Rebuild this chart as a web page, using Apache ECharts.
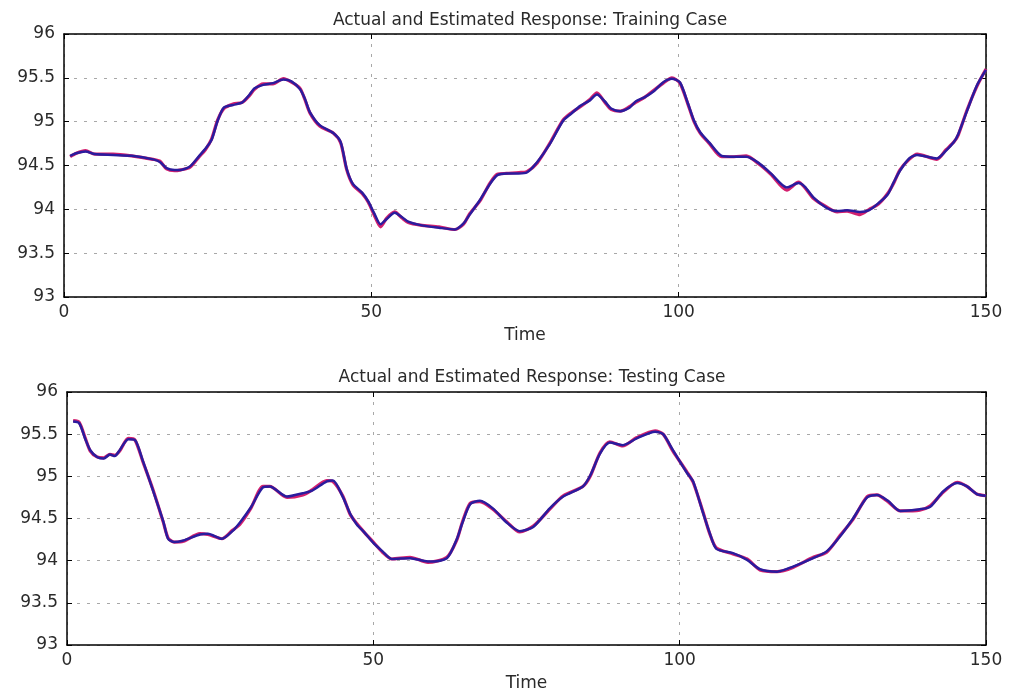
<!DOCTYPE html>
<html>
<head>
<meta charset="utf-8">
<script src="https://cdn.jsdelivr.net/npm/echarts@6/dist/echarts.min.js"></script>
<style>
  html, body { margin: 0; padding: 0; background: #fff; }
  #chart { width: 1010px; height: 693px; }
</style>
</head>
<body>
<div id="chart"></div>
<script>
// training case
const trainTime = [1, 2, 3.5, 5, 8, 11, 14.5, 15.6, 16.7, 18, 19, 20.5, 22, 23, 24, 25, 26, 27.5, 29, 30.2,
  31, 32.4, 34, 35.7, 37, 38.4, 39.2, 40, 41.6, 43.8, 45, 46, 47, 48.5, 49.5, 50.5, 51.5, 52.5, 53.8, 55,
  56, 58, 61, 63.6, 65, 66, 67.7, 69.3, 70.5, 72, 74, 75.3, 77, 79, 81.2, 82.5, 84, 85.5, 86.7, 88,
  89, 90.5, 92, 93, 94.5, 96, 97.5, 98.9, 100.2, 101.5, 102.5, 103.5, 105, 107, 109, 111, 113, 115, 117.6, 119.5,
  120.5, 122, 124, 125.8, 127.4, 129.5, 131, 132.5, 134, 135, 136, 137.5, 138.8, 142, 143.5, 144.8, 145.5, 146.9, 148.5, 150];
const trainActual = [94.60, 94.64, 94.67, 94.63, 94.63, 94.61, 94.57, 94.55, 94.46, 94.44, 94.45, 94.48, 94.60, 94.68, 94.80, 95.02, 95.15, 95.20, 95.22, 95.30,
  95.37, 95.43, 95.43, 95.49, 95.45, 95.38, 95.25, 95.10, 94.95, 94.87, 94.76, 94.45, 94.28, 94.18, 94.08, 93.93, 93.80, 93.90, 93.97, 93.90,
  93.85, 93.82, 93.80, 93.77, 93.83, 93.95, 94.10, 94.30, 94.40, 94.41, 94.42, 94.43, 94.53, 94.75, 95.02, 95.10, 95.17, 95.25, 95.33, 95.22,
  95.14, 95.12, 95.17, 95.22, 95.28, 95.36, 95.44, 95.50, 95.44, 95.20, 95.00, 94.87, 94.75, 94.60, 94.60, 94.61, 94.52, 94.40, 94.22, 94.31,
  94.25, 94.12, 94.03, 93.97, 93.98, 93.94, 94.00, 94.06, 94.18, 94.30, 94.45, 94.57, 94.63, 94.57, 94.68, 94.77, 94.85, 95.13, 95.40, 95.60];
const trainEstimated = [94.61, 94.64, 94.66, 94.63, 94.62, 94.61, 94.57, 94.54, 94.47, 94.45, 94.45, 94.49, 94.61, 94.69, 94.79, 95.01, 95.16, 95.19, 95.22, 95.31,
  95.38, 95.42, 95.44, 95.48, 95.46, 95.37, 95.26, 95.11, 94.96, 94.87, 94.77, 94.46, 94.29, 94.19, 94.09, 93.95, 93.83, 93.89, 93.96, 93.91,
  93.86, 93.82, 93.79, 93.77, 93.84, 93.94, 94.11, 94.29, 94.39, 94.41, 94.41, 94.42, 94.54, 94.74, 95.01, 95.09, 95.18, 95.24, 95.31, 95.23,
  95.15, 95.12, 95.16, 95.23, 95.28, 95.35, 95.45, 95.49, 95.45, 95.21, 95.01, 94.88, 94.76, 94.61, 94.60, 94.60, 94.53, 94.41, 94.25, 94.30,
  94.26, 94.13, 94.02, 93.98, 93.99, 93.97, 93.99, 94.07, 94.17, 94.31, 94.44, 94.58, 94.62, 94.58, 94.67, 94.77, 94.86, 95.12, 95.41, 95.59];

// testing case
const testTime = [1, 2, 3, 3.8, 4.9, 6, 7, 7.8, 8.6, 10, 11.1, 12.4, 14, 15.7, 16.5, 17.5, 19, 21.7, 23, 25.3,
  27, 28.2, 30, 32, 33.1, 35.9, 38.5, 40, 42.4, 43.4, 45, 46.2, 47.3, 48.6, 50, 51.5, 53, 56, 58.9, 62,
  63.6, 64.5, 65.8, 67.4, 69.5, 71.8, 73.9, 76.1, 78.8, 81, 84.2, 85.4, 87, 88.6, 90.7, 93, 96, 97.3, 98.9, 101.2,
  102.2, 103.8, 104.9, 106, 108.7, 111, 113.1, 115.9, 118.5, 121.8, 124, 126.2, 128.3, 130.6, 132.2, 134, 136, 139.2, 140.9, 143,
  145.3, 146.9, 148.5, 150];
const testActual = [95.66, 95.64, 95.45, 95.30, 95.23, 95.22, 95.26, 95.25, 95.30, 95.45, 95.43, 95.17, 94.85, 94.46, 94.27, 94.22, 94.23, 94.32, 94.31, 94.26,
  94.36, 94.43, 94.62, 94.88, 94.88, 94.75, 94.78, 94.84, 94.95, 94.94, 94.77, 94.55, 94.44, 94.33, 94.22, 94.10, 94.02, 94.04, 93.98, 94.04,
  94.24, 94.45, 94.68, 94.70, 94.61, 94.46, 94.34, 94.41, 94.61, 94.77, 94.88, 95.00, 95.28, 95.41, 95.36, 95.46, 95.54, 95.50, 95.30, 95.05,
  94.93, 94.58, 94.32, 94.15, 94.08, 94.02, 93.89, 93.87, 93.92, 94.04, 94.10, 94.30, 94.49, 94.76, 94.78, 94.70, 94.59, 94.60, 94.65, 94.81,
  94.93, 94.88, 94.79, 94.77];
const testEstimated = [95.65, 95.63, 95.44, 95.31, 95.23, 95.21, 95.26, 95.24, 95.31, 95.44, 95.43, 95.18, 94.84, 94.47, 94.26, 94.22, 94.24, 94.31, 94.32, 94.26,
  94.35, 94.45, 94.63, 94.87, 94.88, 94.76, 94.80, 94.83, 94.94, 94.95, 94.76, 94.56, 94.43, 94.33, 94.21, 94.11, 94.02, 94.03, 93.99, 94.03,
  94.25, 94.44, 94.67, 94.71, 94.62, 94.45, 94.35, 94.40, 94.62, 94.76, 94.88, 95.01, 95.27, 95.40, 95.37, 95.45, 95.53, 95.50, 95.31, 95.04,
  94.94, 94.57, 94.33, 94.14, 94.09, 94.01, 93.90, 93.87, 93.93, 94.03, 94.11, 94.29, 94.50, 94.75, 94.78, 94.71, 94.59, 94.61, 94.64, 94.82,
  94.92, 94.88, 94.79, 94.77];

const titles = ['Actual and Estimated Response: Training Case', 'Actual and Estimated Response: Testing Case'];

const pairs = (xs, ys) => xs.map((x, i) => [x, ys[i]]);

const textColor = '#2a2a2a';
const fontFamily = '"DejaVu Sans", "Liberation Sans", sans-serif';

const grids = [
  { left: 64, right: 24, top: 34, height: 263 },
  { left: 67, right: 24, top: 392, height: 255 }
];

const xAxes = [];
const yAxes = [];
grids.forEach((g, gi) => {
  xAxes.push({
    type: 'value', gridIndex: gi, min: 0, max: 150, interval: 50, position: 'bottom',
    name: 'Time', nameLocation: 'middle', nameGap: 30,
    nameTextStyle: { color: textColor, fontSize: 17, fontFamily: fontFamily },
    axisLine: { show: true, onZero: false, lineStyle: { color: '#000', width: 1.5 } },
    axisTick: { show: true, inside: true, length: 5, lineStyle: { color: '#000' } },
    axisLabel: { color: textColor, fontSize: 17, fontFamily: fontFamily, margin: 7 },
    splitLine: { show: true, lineStyle: { color: '#a8a8a8', type: [3, 7], width: 1 } }
  });
  xAxes.push({
    type: 'value', gridIndex: gi, min: 0, max: 150, interval: 50, position: 'top',
    axisLine: { show: true, onZero: false, lineStyle: { color: '#000', width: 1.5 } },
    axisTick: { show: true, inside: true, length: 5, lineStyle: { color: '#000' } },
    axisLabel: { show: false },
    splitLine: { show: false }
  });
  yAxes.push({
    type: 'value', gridIndex: gi, min: 93, max: 96, interval: 0.5, position: 'left',
    axisLine: { show: true, onZero: false, lineStyle: { color: '#000', width: 1.5 } },
    axisTick: { show: true, inside: true, length: 5, lineStyle: { color: '#000' } },
    axisLabel: { color: textColor, fontSize: 17, fontFamily: fontFamily, margin: 9 },
    splitLine: { show: true, lineStyle: { color: '#a8a8a8', type: [3, 7], width: 1 } }
  });
  yAxes.push({
    type: 'value', gridIndex: gi, min: 93, max: 96, interval: 0.5, position: 'right',
    axisLine: { show: true, onZero: false, lineStyle: { color: '#000', width: 1.5 } },
    axisTick: { show: true, inside: true, length: 5, lineStyle: { color: '#000' } },
    axisLabel: { show: false },
    splitLine: { show: false }
  });
});

const lineSeries = (name, data, gi, color, width, z) => ({
  name: name, type: 'line', xAxisIndex: gi * 2, yAxisIndex: gi * 2,
  data: data, showSymbol: false, symbol: 'none', z: z, smooth: 0.25,
  lineStyle: { color: color, width: width },
  animation: false
});

const chart = echarts.init(document.getElementById('chart'));
chart.setOption({
  backgroundColor: '#fff',
  animation: false,
  title: [
    { text: titles[0], left: 525, top: 7, textAlign: 'center',
      textStyle: { color: textColor, fontSize: 17, fontWeight: 'normal', fontFamily: fontFamily } },
    { text: titles[1], left: 527, top: 364, textAlign: 'center',
      textStyle: { color: textColor, fontSize: 17, fontWeight: 'normal', fontFamily: fontFamily } }
  ],
  grid: grids,
  xAxis: xAxes,
  yAxis: yAxes,
  series: [
    lineSeries('Actual', pairs(trainTime, trainActual), 0, '#d4206e', 3.2, 2),
    lineSeries('Estimated', pairs(trainTime, trainEstimated), 0, '#2a1c9e', 2.5, 3),
    lineSeries('Actual', pairs(testTime, testActual), 1, '#d4206e', 3.2, 2),
    lineSeries('Estimated', pairs(testTime, testEstimated), 1, '#2a1c9e', 2.5, 3)
  ]
});
</script>
</body>
</html>
